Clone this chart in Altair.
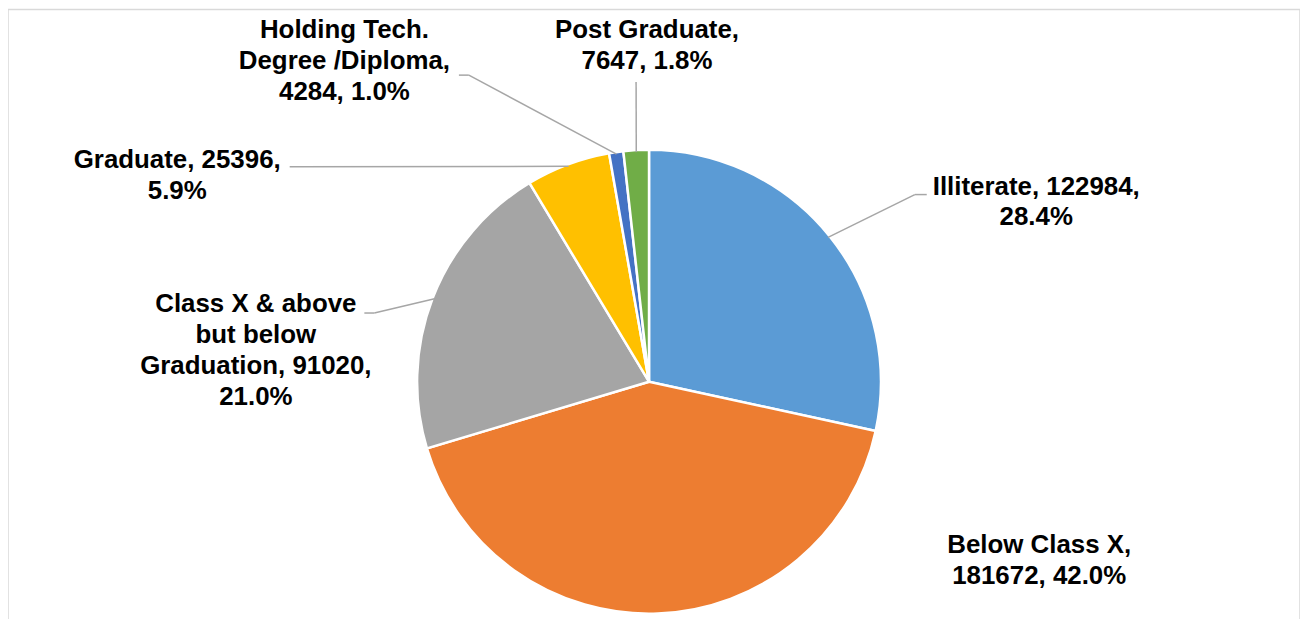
import math
import textwrap
import altair as alt
import pandas as pd

# ---------------- data ----------------
categories = [
    "Illiterate",
    "Below Class X",
    "Class X & above but below Graduation",
    "Graduate",
    "Holding Tech. Degree /Diploma",
    "Post Graduate",
]
counts = [122984, 181672, 91020, 25396, 4284, 7647]
colors = ["#5B9BD5", "#ED7D31", "#A5A5A5", "#FFC000", "#4472C4", "#70AD47"]

# ---------------- layout (view pixel coordinates) ----------------
W, H = 1298, 620
DX, DY = 4, 1
CX, CY, R = 640 + DX, 373 + DY, 233
R_LEADER = 231
FONT_SIZE = 26
LINE_H = 31
wrap_widths = [20, 15, 18, 16, 16, 14]
label_anchor = [(1029, 177), (1032, 537), (245, 295), (166, 150), (334, 20), (638, 20)]
leader_elbows = [
    [(907, 185), (919, 185)],
    None,
    [(364, 304), (354, 304)],
    [(279, 157)],
    [(459, 65), (449, 65)],
    [(627, 72)],
]

total = sum(counts)

# ---------------- pie ----------------
pie_df = pd.DataFrame({"category": categories, "count": counts, "order": list(range(len(counts)))})

arc = alt.Chart(pie_df).mark_arc(outerRadius=R, stroke="white", strokeWidth=2.5).encode(
    theta=alt.Theta("count:Q", stack=True),
    color=alt.Color("category:N", scale=alt.Scale(domain=categories, range=colors), legend=None),
    order=alt.Order("order:Q"),
    x=alt.value(CX),
    y=alt.value(CY),
)

# ---------------- labels ----------------
text_rows = []
for i, (cat, c) in enumerate(zip(categories, counts)):
    pct = 100.0 * c / total
    label = f"{cat}, {c}, {pct:.1f}%"
    lines = textwrap.wrap(label, wrap_widths[i])
    ax, ay = label_anchor[i]
    for j, ln in enumerate(lines):
        text_rows.append({"x": ax + DX, "y": ay + DY + j * LINE_H, "text": ln})
text_df = pd.DataFrame(text_rows)

texts = alt.Chart(text_df).mark_text(
    font="Liberation Sans", fontSize=FONT_SIZE, fontWeight="bold", color="black",
    align="center", baseline="middle",
).encode(
    x=alt.X("x:Q", scale=None, axis=None),
    y=alt.Y("y:Q", scale=None, axis=None),
    text="text:N",
)

# ---------------- leader lines ----------------
rule_rows = []
cum = 0
for i, c in enumerate(counts):
    mid = (cum + c / 2) / total * 2 * math.pi
    cum += c
    if not leader_elbows[i]:
        continue
    pts = [(CX + R_LEADER * math.sin(mid), CY - R_LEADER * math.cos(mid))] + [
        (px + DX, py + DY) for px, py in leader_elbows[i]
    ]
    for (x1, y1), (x2, y2) in zip(pts[:-1], pts[1:]):
        rule_rows.append({"x": x1, "y": y1, "x2": x2, "y2": y2})
rule_df = pd.DataFrame(rule_rows)

rules = alt.Chart(rule_df).mark_rule(color="#A6A6A6", strokeWidth=1.5).encode(
    x=alt.X("x:Q", scale=None, axis=None),
    y=alt.Y("y:Q", scale=None, axis=None),
    x2="x2:Q",
    y2="y2:Q",
)

chart = (
    alt.layer(arc, rules, texts)
    .properties(width=W, height=H, padding=0, background="white")
    .configure_view(stroke="#D9D9D9", strokeWidth=1.5)
)

chart.save("out.html", embed_options={"renderer": "svg", "actions": False})
